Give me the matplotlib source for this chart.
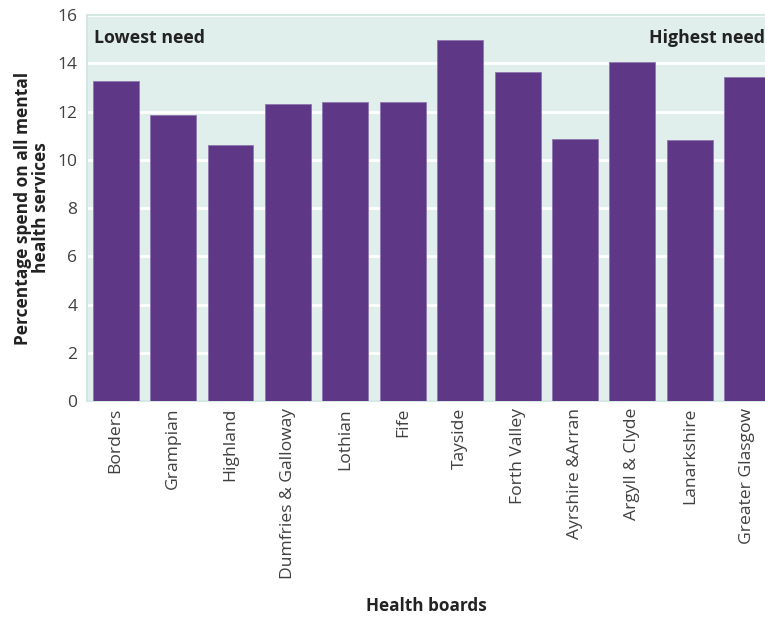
import matplotlib
matplotlib.use("Agg")
import matplotlib.pyplot as plt

# --- Data ---
boards = ['Borders', 'Grampian', 'Highland', 'Dumfries & Galloway', 'Lothian', 'Fife',
          'Tayside', 'Forth Valley', 'Ayrshire &Arran', 'Argyll & Clyde', 'Lanarkshire',
          'Greater Glasgow']
spend = [13.25, 11.85, 10.6, 12.3, 12.4, 12.4, 14.95, 13.65, 10.85, 14.05, 10.8, 13.45]

plt.rcParams['font.family'] = ['Open Sans', 'DejaVu Sans']

bar_color = '#5e3787'
bg_color = '#e0efeb'
text_color = '#404040'

fig = plt.figure(figsize=(7.65, 6.18), dpi=100)
ax = fig.add_axes([0.1137, 0.3511, 0.9007, 0.6246])
ax.set_facecolor(bg_color)

x = range(len(boards))
ax.bar(x, spend, width=0.8, color=bar_color, edgecolor='#8f76ad', linewidth=0.6, zorder=3)

ax.set_ylim(0, 16)
ax.set_xlim(-0.5, len(boards) - 0.5)
ax.set_yticks(range(0, 17, 2))
ax.yaxis.grid(True, color='white', linewidth=2, zorder=1)
ax.set_axisbelow(True)

for s in ax.spines.values():
    s.set_color('#cde5df')
    s.set_linewidth(1.2)

ax.tick_params(axis='both', length=0, colors=text_color, labelsize=12.5)
ax.tick_params(axis='y', pad=7)
ax.tick_params(axis='x', pad=5)
ax.set_xticks(list(x))
ax.set_xticklabels(boards, rotation=90, fontsize=12.6)

ax.set_ylabel('Percentage spend on all mental\nhealth services', fontsize=12.5,
              fontweight='bold', color='#222222', linespacing=1.0, labelpad=5)
fig.text(0.557, 0.005, 'Health boards', ha='center', va='bottom', fontsize=12.3,
         fontweight='bold', color='#222222')

ax.text(0.01, 0.94, 'Lowest need', transform=ax.transAxes, ha='left', va='center',
        fontsize=12.8, fontweight='bold', color='#222222')
fig.text(1.0, 0.939, 'Highest need', ha='right', va='center',
         fontsize=12.8, fontweight='bold', color='#222222')

fig.savefig('out.png', dpi=100)
